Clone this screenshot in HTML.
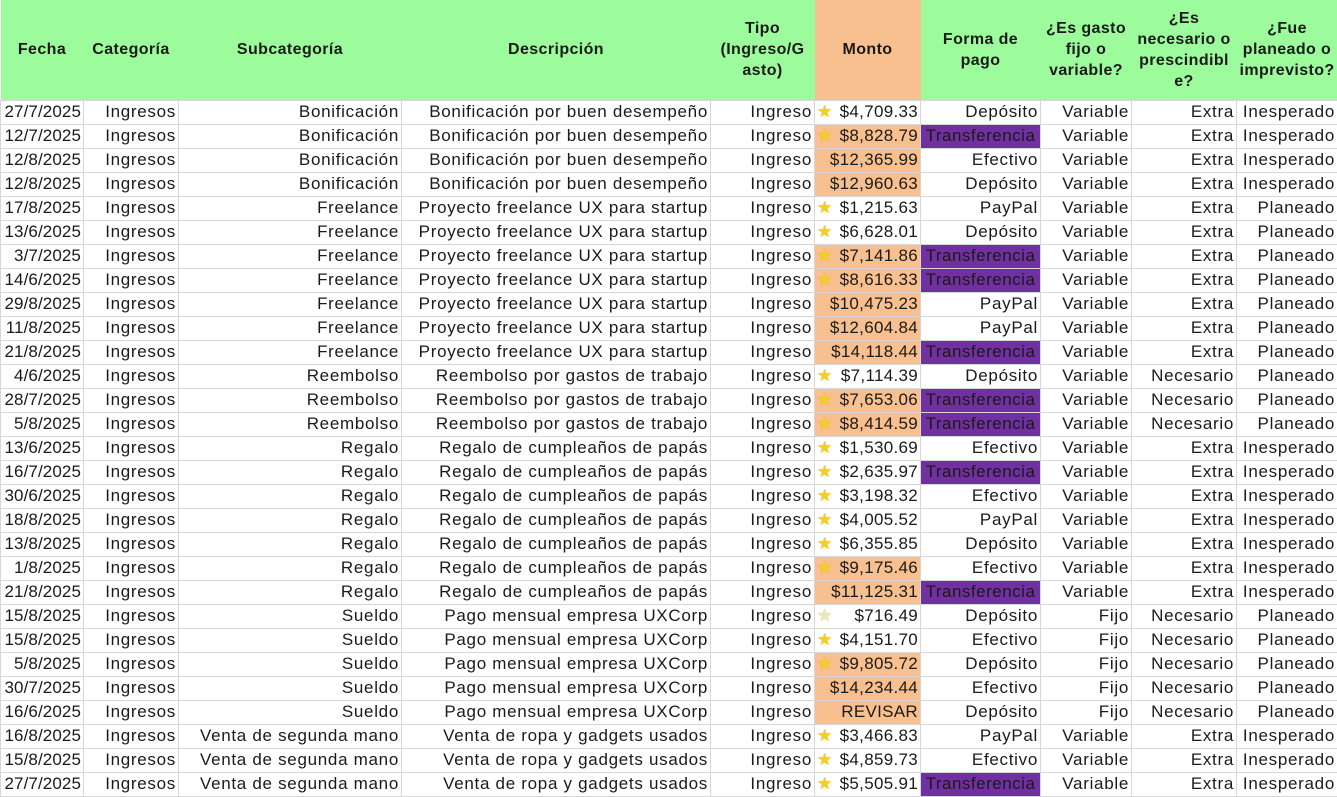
<!DOCTYPE html>
<html><head><meta charset="utf-8"><style>
*{margin:0;padding:0;box-sizing:border-box}
body{width:1337px;height:796px;overflow:hidden;background:#fff;font-family:"Liberation Sans",sans-serif;color:#1a1a1a}
table{border-collapse:collapse;table-layout:fixed;width:1337px}
th{background:#9cfc9c;height:100px;font-size:16px;font-weight:bold;line-height:21px;text-align:center;vertical-align:middle;padding:0 3px;letter-spacing:0.4px}
th.m{background:#f8bf8f}
th.f{padding:0 14px}
td{height:24px;font-size:17px;letter-spacing:0.7px;text-align:right;padding:0 2px 0 1px;border:1px solid #d6d6d6;white-space:nowrap;overflow:hidden;position:relative;line-height:22px}
tr td:first-child{letter-spacing:0.1px}
tr td:nth-child(6){letter-spacing:0.3px}
td.o{background:#f8bf8f}
td.p{background:#7030a0;color:#1a1a1a;letter-spacing:0.5px;text-align:center;padding:0}
.s{position:absolute;left:2px;top:0;color:#f5d020;font-size:17px;text-shadow:0 0 1px #c9a000}
.h{color:#e8e8c0}
</style></head><body>
<table>
<colgroup><col style="width:83px"><col style="width:95px"><col style="width:223px"><col style="width:309px"><col style="width:104px"><col style="width:106px"><col style="width:120px"><col style="width:91px"><col style="width:105px"><col style="width:101px"></colgroup>
<tr><th>Fecha</th><th>Categoría</th><th>Subcategoría</th><th>Descripción</th><th>Tipo (Ingreso/G asto)</th><th class="m">Monto</th><th class="f">Forma de pago</th><th>¿Es gasto fijo o variable?</th><th>¿Es necesario o prescindibl e?</th><th>¿Fue planeado o imprevisto?</th></tr>
<tr><td>27/7/2025</td><td>Ingresos</td><td>Bonificación</td><td>Bonificación por buen desempeño</td><td>Ingreso</td><td><span class="s">★</span>$4,709.33</td><td>Depósito</td><td>Variable</td><td>Extra</td><td>Inesperado</td></tr>
<tr><td>12/7/2025</td><td>Ingresos</td><td>Bonificación</td><td>Bonificación por buen desempeño</td><td>Ingreso</td><td class="o"><span class="s">★</span>$8,828.79</td><td class="p">Transferencia</td><td>Variable</td><td>Extra</td><td>Inesperado</td></tr>
<tr><td>12/8/2025</td><td>Ingresos</td><td>Bonificación</td><td>Bonificación por buen desempeño</td><td>Ingreso</td><td class="o">$12,365.99</td><td>Efectivo</td><td>Variable</td><td>Extra</td><td>Inesperado</td></tr>
<tr><td>12/8/2025</td><td>Ingresos</td><td>Bonificación</td><td>Bonificación por buen desempeño</td><td>Ingreso</td><td class="o">$12,960.63</td><td>Depósito</td><td>Variable</td><td>Extra</td><td>Inesperado</td></tr>
<tr><td>17/8/2025</td><td>Ingresos</td><td>Freelance</td><td>Proyecto freelance UX para startup</td><td>Ingreso</td><td><span class="s">★</span>$1,215.63</td><td>PayPal</td><td>Variable</td><td>Extra</td><td>Planeado</td></tr>
<tr><td>13/6/2025</td><td>Ingresos</td><td>Freelance</td><td>Proyecto freelance UX para startup</td><td>Ingreso</td><td><span class="s">★</span>$6,628.01</td><td>Depósito</td><td>Variable</td><td>Extra</td><td>Planeado</td></tr>
<tr><td>3/7/2025</td><td>Ingresos</td><td>Freelance</td><td>Proyecto freelance UX para startup</td><td>Ingreso</td><td class="o"><span class="s">★</span>$7,141.86</td><td class="p">Transferencia</td><td>Variable</td><td>Extra</td><td>Planeado</td></tr>
<tr><td>14/6/2025</td><td>Ingresos</td><td>Freelance</td><td>Proyecto freelance UX para startup</td><td>Ingreso</td><td class="o"><span class="s">★</span>$8,616.33</td><td class="p">Transferencia</td><td>Variable</td><td>Extra</td><td>Planeado</td></tr>
<tr><td>29/8/2025</td><td>Ingresos</td><td>Freelance</td><td>Proyecto freelance UX para startup</td><td>Ingreso</td><td class="o">$10,475.23</td><td>PayPal</td><td>Variable</td><td>Extra</td><td>Planeado</td></tr>
<tr><td>11/8/2025</td><td>Ingresos</td><td>Freelance</td><td>Proyecto freelance UX para startup</td><td>Ingreso</td><td class="o">$12,604.84</td><td>PayPal</td><td>Variable</td><td>Extra</td><td>Planeado</td></tr>
<tr><td>21/8/2025</td><td>Ingresos</td><td>Freelance</td><td>Proyecto freelance UX para startup</td><td>Ingreso</td><td class="o">$14,118.44</td><td class="p">Transferencia</td><td>Variable</td><td>Extra</td><td>Planeado</td></tr>
<tr><td>4/6/2025</td><td>Ingresos</td><td>Reembolso</td><td>Reembolso por gastos de trabajo</td><td>Ingreso</td><td><span class="s">★</span>$7,114.39</td><td>Depósito</td><td>Variable</td><td>Necesario</td><td>Planeado</td></tr>
<tr><td>28/7/2025</td><td>Ingresos</td><td>Reembolso</td><td>Reembolso por gastos de trabajo</td><td>Ingreso</td><td class="o"><span class="s">★</span>$7,653.06</td><td class="p">Transferencia</td><td>Variable</td><td>Necesario</td><td>Planeado</td></tr>
<tr><td>5/8/2025</td><td>Ingresos</td><td>Reembolso</td><td>Reembolso por gastos de trabajo</td><td>Ingreso</td><td class="o"><span class="s">★</span>$8,414.59</td><td class="p">Transferencia</td><td>Variable</td><td>Necesario</td><td>Planeado</td></tr>
<tr><td>13/6/2025</td><td>Ingresos</td><td>Regalo</td><td>Regalo de cumpleaños de papás</td><td>Ingreso</td><td><span class="s">★</span>$1,530.69</td><td>Efectivo</td><td>Variable</td><td>Extra</td><td>Inesperado</td></tr>
<tr><td>16/7/2025</td><td>Ingresos</td><td>Regalo</td><td>Regalo de cumpleaños de papás</td><td>Ingreso</td><td><span class="s">★</span>$2,635.97</td><td class="p">Transferencia</td><td>Variable</td><td>Extra</td><td>Inesperado</td></tr>
<tr><td>30/6/2025</td><td>Ingresos</td><td>Regalo</td><td>Regalo de cumpleaños de papás</td><td>Ingreso</td><td><span class="s">★</span>$3,198.32</td><td>Efectivo</td><td>Variable</td><td>Extra</td><td>Inesperado</td></tr>
<tr><td>18/8/2025</td><td>Ingresos</td><td>Regalo</td><td>Regalo de cumpleaños de papás</td><td>Ingreso</td><td><span class="s">★</span>$4,005.52</td><td>PayPal</td><td>Variable</td><td>Extra</td><td>Inesperado</td></tr>
<tr><td>13/8/2025</td><td>Ingresos</td><td>Regalo</td><td>Regalo de cumpleaños de papás</td><td>Ingreso</td><td><span class="s">★</span>$6,355.85</td><td>Depósito</td><td>Variable</td><td>Extra</td><td>Inesperado</td></tr>
<tr><td>1/8/2025</td><td>Ingresos</td><td>Regalo</td><td>Regalo de cumpleaños de papás</td><td>Ingreso</td><td class="o"><span class="s">★</span>$9,175.46</td><td>Efectivo</td><td>Variable</td><td>Extra</td><td>Inesperado</td></tr>
<tr><td>21/8/2025</td><td>Ingresos</td><td>Regalo</td><td>Regalo de cumpleaños de papás</td><td>Ingreso</td><td class="o">$11,125.31</td><td class="p">Transferencia</td><td>Variable</td><td>Extra</td><td>Inesperado</td></tr>
<tr><td>15/8/2025</td><td>Ingresos</td><td>Sueldo</td><td>Pago mensual empresa UXCorp</td><td>Ingreso</td><td><span class="s h">★</span>$716.49</td><td>Depósito</td><td>Fijo</td><td>Necesario</td><td>Planeado</td></tr>
<tr><td>15/8/2025</td><td>Ingresos</td><td>Sueldo</td><td>Pago mensual empresa UXCorp</td><td>Ingreso</td><td><span class="s">★</span>$4,151.70</td><td>Efectivo</td><td>Fijo</td><td>Necesario</td><td>Planeado</td></tr>
<tr><td>5/8/2025</td><td>Ingresos</td><td>Sueldo</td><td>Pago mensual empresa UXCorp</td><td>Ingreso</td><td class="o"><span class="s">★</span>$9,805.72</td><td>Depósito</td><td>Fijo</td><td>Necesario</td><td>Planeado</td></tr>
<tr><td>30/7/2025</td><td>Ingresos</td><td>Sueldo</td><td>Pago mensual empresa UXCorp</td><td>Ingreso</td><td class="o">$14,234.44</td><td>Efectivo</td><td>Fijo</td><td>Necesario</td><td>Planeado</td></tr>
<tr><td>16/6/2025</td><td>Ingresos</td><td>Sueldo</td><td>Pago mensual empresa UXCorp</td><td>Ingreso</td><td class="o">REVISAR</td><td>Depósito</td><td>Fijo</td><td>Necesario</td><td>Planeado</td></tr>
<tr><td>16/8/2025</td><td>Ingresos</td><td>Venta de segunda mano</td><td>Venta de ropa y gadgets usados</td><td>Ingreso</td><td><span class="s">★</span>$3,466.83</td><td>PayPal</td><td>Variable</td><td>Extra</td><td>Inesperado</td></tr>
<tr><td>15/8/2025</td><td>Ingresos</td><td>Venta de segunda mano</td><td>Venta de ropa y gadgets usados</td><td>Ingreso</td><td><span class="s">★</span>$4,859.73</td><td>Efectivo</td><td>Variable</td><td>Extra</td><td>Inesperado</td></tr>
<tr><td>27/7/2025</td><td>Ingresos</td><td>Venta de segunda mano</td><td>Venta de ropa y gadgets usados</td><td>Ingreso</td><td><span class="s">★</span>$5,505.91</td><td class="p">Transferencia</td><td>Variable</td><td>Extra</td><td>Inesperado</td></tr>
</table>
</body></html>
